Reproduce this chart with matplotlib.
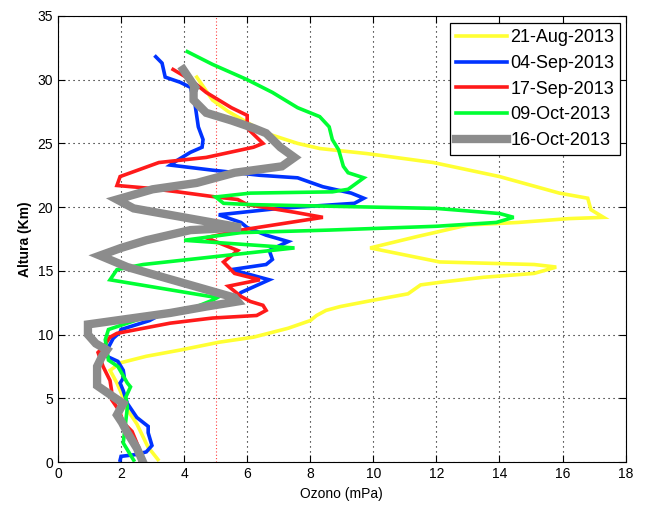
import numpy as np
import matplotlib.pyplot as plt

plt.rcParams['font.family'] = ['Liberation Sans', 'DejaVu Sans']

labels = ['21-Aug-2013', '04-Sep-2013', '17-Sep-2013', '09-Oct-2013', '16-Oct-2013']
colors = ['#ffff33', '#0033ff', '#ff1a1a', '#00ff33', '#8c8c8c']
widths = [2.6, 2.6, 2.6, 2.6, 6.0]

# altitude (km) / ozone (mPa) pairs
alt_aug = [0.2, 1.2, 3.0, 4.1, 5.1, 6.2, 7.2, 7.8, 8.3, 8.8, 9.4, 9.8, 10.5, 11.1, 11.5, 11.9,
           12.2, 12.7, 13.2, 13.9, 14.1, 14.5, 14.8, 15.3, 15.5, 15.6, 15.7, 16.3, 16.8, 17.7,
           18.6, 18.8, 19.1, 19.2, 19.8, 20.7, 21.1, 22.4, 23.5, 24.2, 24.6, 25.0, 25.8, 27.5,
           28.4, 30.2]
oz_aug = [3.17, 2.85, 2.5, 2.2, 2.06, 1.87, 1.65, 2.0, 2.8, 3.9, 5.1, 6.2, 7.3, 8.0, 8.2, 8.5,
          8.95, 10.0, 11.1, 11.5, 12.1, 13.5, 15.1, 15.8, 15.1, 13.6, 12.1, 10.9, 9.9, 11.4,
          13.0, 14.6, 16.2, 17.3, 16.9, 16.8, 15.9, 14.0, 11.9, 9.8, 8.3, 7.6, 6.6, 5.4,
          4.9, 4.4]

alt_sep04 = [0.15, 0.45, 0.6, 0.8, 1.3, 2.3, 2.8, 3.5, 4.6, 5.6, 6.2, 6.7, 7.2, 7.9, 8.3, 9.0,
             9.7, 10.2, 10.4, 11.1, 11.5, 11.8, 12.1, 12.3, 12.7, 13.3, 14.3, 15.1, 15.5, 15.9,
             16.6, 17.3, 17.8, 18.4, 18.8, 19.4, 19.9, 20.3, 20.7, 21.1, 21.6, 22.3, 22.5, 22.9,
             23.3, 23.7, 24.3, 24.7, 25.3, 26.3, 28.0, 29.4, 29.8, 30.2, 31.3, 31.8]
oz_sep04 = [1.97, 2.0, 2.5, 2.8, 2.98, 2.86, 2.86, 2.5, 2.2, 2.07, 1.97, 2.1, 2.07, 1.9, 1.55, 1.6,
            1.75, 1.97, 2.0, 2.9, 3.2, 4.1, 4.5, 4.9, 5.6, 5.8, 6.7, 5.5, 6.6, 6.8,
            6.7, 7.3, 6.6, 6.0, 5.8, 5.1, 7.0, 9.4, 9.7, 9.3, 8.4, 7.6, 6.4, 4.9,
            3.56, 3.8, 4.2, 4.57, 4.6, 4.45, 4.35, 4.2, 3.87, 3.4, 3.3, 3.1]

alt_sep17 = [0.2, 1.2, 2.4, 3.1, 4.0, 4.9, 5.6, 6.4, 7.5, 8.6, 9.0, 9.8, 10.1, 10.9, 11.3, 11.5,
             11.9, 12.3, 12.6, 13.0, 13.8, 14.3, 14.8, 15.7, 16.6, 17.6, 18.2, 19.2, 19.6, 20.2,
             20.6, 20.8, 21.2, 21.5, 21.7, 22.4, 23.5, 23.9, 24.7, 25.0, 26.2, 27.2, 27.8, 29.0,
             30.0, 30.8]
oz_sep17 = [2.6, 2.55, 2.35, 2.07, 1.95, 1.7, 1.7, 1.65, 1.43, 1.27, 1.43, 1.65, 1.87, 3.56, 4.9, 6.3,
            6.6, 6.5, 6.1, 5.8, 5.4, 6.4, 5.6, 5.25, 5.7, 4.7, 5.8, 8.4, 7.5, 6.0,
            5.7, 5.0, 3.8, 2.8, 1.87, 1.97, 3.2, 4.7, 6.2, 6.5, 6.0, 6.0, 5.5, 4.7,
            4.2, 3.65]

alt_oct09 = [0.15, 1.5, 4.3, 5.1, 5.9, 6.2, 7.5, 8.0, 9.6, 10.4, 11.4, 11.9, 12.7, 12.9, 14.3, 15.1,
             15.5, 16.8, 17.4, 18.0, 18.2, 18.5, 18.8, 19.2, 19.5, 19.9, 20.2, 20.3, 20.8, 21.1,
             21.2, 21.4, 22.3, 22.7, 23.2, 24.5, 25.3, 26.3, 27.1, 27.8, 29.0, 30.0, 31.2, 32.2]
oz_oct09 = [2.4, 2.07, 2.2, 2.15, 2.3, 2.2, 1.9, 1.6, 1.5, 1.6, 2.8, 4.1, 4.9, 5.05, 1.65, 1.87,
            2.7, 7.5, 4.0, 5.8, 8.6, 12.0, 13.9, 14.45, 14.0, 12.0, 6.1, 5.25, 5.0, 6.1,
            8.7, 9.2, 9.7, 9.2, 9.05, 8.9, 8.7, 8.6, 8.3, 7.6, 6.8, 6.0, 4.9, 4.1]

alt_oct16 = [0.15, 1.1, 2.3, 3.1, 3.7, 4.6, 5.3, 6.0, 7.5, 8.3, 8.8, 9.3, 10.0, 10.8, 11.7, 12.2,
             12.6, 12.9, 15.3, 16.2, 16.8, 17.4, 18.2, 18.4, 19.9, 20.6, 21.4, 21.9, 22.7, 23.2,
             23.9, 24.7, 25.8, 26.2, 26.8, 27.4, 28.4, 29.2, 29.4, 30.8]
oz_oct16 = [2.67, 2.5, 2.2, 2.03, 1.87, 2.07, 1.65, 1.24, 1.24, 1.4, 1.55, 1.2, 0.95, 0.95, 3.56, 4.7,
            5.7, 5.6, 2.2, 1.33, 2.0, 2.8, 4.2, 5.8, 2.4, 1.87, 3.0, 4.4, 5.6, 7.1,
            7.5, 7.05, 6.6, 6.2, 5.5, 4.7, 4.3, 4.3, 4.35, 3.97]

profiles = [(oz_aug, alt_aug), (oz_sep04, alt_sep04), (oz_sep17, alt_sep17),
            (oz_oct09, alt_oct09), (oz_oct16, alt_oct16)]

fig = plt.figure(figsize=(6.45, 5.14), dpi=100)
ax = fig.add_axes([0.0899, 0.101, 0.880, 0.868])

for (oz, alt), lab, c, w in zip(profiles, labels, colors, widths):
    ax.plot(oz, alt, color=c, lw=w, label=lab, solid_joinstyle='miter')

# reference line at 5 mPa
ax.axvline(5, color='#ff4040', lw=0.8, ls=(0, (1, 2)), zorder=0.5)

ax.set_xlim(0, 18)
ax.set_ylim(0, 35)
ax.set_xticks(np.arange(0, 19, 2))
ax.set_yticks(np.arange(0, 36, 5))
ax.grid(True, color='black', lw=0.8, ls=(0, (1, 3.5)))
ax.set_axisbelow(True)
ax.tick_params(direction='in', top=True, right=True, length=5, labelsize=10, width=0.8)
for s in ax.spines.values():
    s.set_linewidth(0.8)

ax.set_xlabel('Ozono (mPa)', fontsize=10)
ax.set_ylabel('Altura (Km)', fontsize=10, fontweight='bold')

leg = ax.legend(loc='upper right', bbox_to_anchor=(0.991, 0.984), borderaxespad=0,
                fontsize=13, fancybox=False, edgecolor='black', framealpha=1,
                handlelength=2.8, handletextpad=0.2, labelspacing=0.48, borderpad=0.35)
leg.get_frame().set_linewidth(0.9)

fig.savefig('out.png', dpi=100)
